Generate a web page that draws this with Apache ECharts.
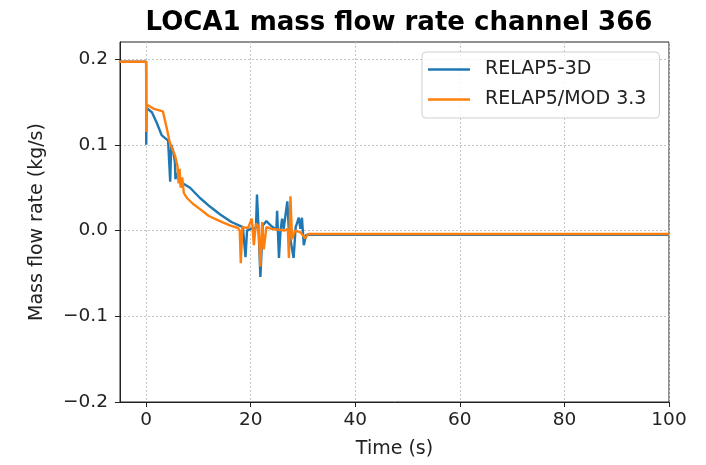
<!DOCTYPE html>
<html>
<head>
<meta charset="utf-8">
<script src="https://cdn.jsdelivr.net/npm/echarts@6/dist/echarts.min.js"></script>
<style>html,body{margin:0;padding:0;background:#fff}#c{width:706px;height:465px}</style>
</head>
<body>
<div id="c"></div>
<script>
const titleText = 'LOCA1 mass flow rate channel 366';
const seriesNames = ['RELAP5-3D', 'RELAP5/MOD 3.3'];
const xTicks = [0, 20, 40, 60, 80, 100];
const yTicks = [-0.2, -0.1, 0.0, 0.1, 0.2];

const blueTime = [-5, 0, 0.02, 0.08, 0.3, 1.1, 2.0, 3.0, 4.2, 4.5,
  4.6, 4.8, 5.2, 5.5, 5.6, 5.9, 6.5, 8.4, 10.3, 12.2,
  14.1, 16.3, 18.5, 19.0, 19.3, 20.0, 21.0, 21.2, 21.5, 21.85,
  22.3, 23.0, 24.0, 24.9, 25.05, 25.4, 25.7, 26.0, 26.3, 27.0,
  27.3, 28.2, 28.6, 29.2, 29.5, 29.8, 30.15, 30.6, 31.5, 100];
const blueFlow = [0.197, 0.197, 0.100, 0.143, 0.142, 0.138, 0.126, 0.111, 0.105, 0.107,
  0.057, 0.100, 0.092, 0.080, 0.060, 0.067, 0.057, 0.050, 0.038, 0.028,
  0.019, 0.010, 0.004, -0.031, 0.000, 0.002, 0.003, 0.042, 0.002, -0.054,
  0.006, 0.011, 0.005, 0.001, 0.023, -0.032, 0.000, 0.014, 0.002, 0.034,
  0.000, -0.032, 0.004, 0.015, 0.002, 0.015, -0.017, -0.005, -0.005, -0.005];

const orangeTime = [-5, 0, 0.03, 0.08, 0.3, 1.5, 3.2, 4.0, 4.5, 5.0,
  5.5, 6.0, 6.2, 6.4, 6.6, 6.9, 7.2, 7.8, 9.0, 10.3,
  12.0, 14.1, 16.0, 17.6, 17.9, 18.1, 18.4, 19.5, 20.2, 20.4,
  20.6, 21.0, 21.5, 21.85, 22.2, 22.5, 23.0, 24.0, 25.5, 26.5,
  27.1, 27.3, 27.6, 27.9, 28.5, 29.5, 30.4, 31.0, 100];
const orangeFlow = [0.197, 0.197, 0.115, 0.147, 0.146, 0.142, 0.139, 0.118, 0.103, 0.095,
  0.088, 0.075, 0.055, 0.072, 0.050, 0.062, 0.044, 0.038, 0.031, 0.025,
  0.017, 0.011, 0.006, 0.003, 0.000, -0.038, 0.004, 0.003, 0.014, 0.000,
  -0.017, 0.008, 0.005, -0.042, 0.010, -0.022, 0.004, 0.002, 0.001, 0.000,
  0.002, -0.032, 0.040, -0.010, 0.000, -0.002, -0.009, -0.004, -0.004];

const zip = (a, b) => a.map((t, i) => [t, b[i]]);
const FONT = 'DejaVu Sans';
const fmt = v => (v < -1e-9 ? '\u2212' : '') + Math.abs(v).toFixed(1);
const gridLine = { show: true, lineStyle: { color: '#c4c4c4', width: 1, type: [2, 2] } };

const chart = echarts.init(document.getElementById('c'), null, { renderer: 'canvas' });
chart.setOption({
  animation: false,
  backgroundColor: '#fff',
  title: {
    text: titleText, left: 394, top: 5, textAlign: 'center',
    textStyle: { fontFamily: FONT, fontWeight: 'bold', fontSize: 26, color: '#000' }
  },
  legend: {
    orient: 'vertical', left: 422, top: 52,
    data: seriesNames,
    icon: 'rect', itemWidth: 42, itemHeight: 2.5, itemGap: 9,
    padding: [7, 13, 8, 6],
    borderColor: '#d0d0d0', borderWidth: 1, borderRadius: 4,
    backgroundColor: 'rgba(255,255,255,0.85)',
    textStyle: { fontFamily: FONT, fontSize: 19, color: '#222', lineHeight: 21, padding: [0, 0, 0, 10] }
  },
  grid: { left: 120, right: 37, top: 42, bottom: 63, show: true, borderColor: '#222', borderWidth: 1 },
  xAxis: {
    type: 'value', min: -5, max: 100,
    name: 'Time (s)', nameLocation: 'middle', nameGap: 38,
    nameTextStyle: { fontFamily: FONT, fontSize: 19, color: '#222' },
    axisLine: { show: true, onZero: false, lineStyle: { color: '#222' } },
    axisTick: { show: true, length: 5, customValues: xTicks, lineStyle: { color: '#222' } },
    axisLabel: { customValues: xTicks, margin: 9, fontFamily: FONT, fontSize: 18.5, color: '#222' },
    splitLine: gridLine
  },
  yAxis: {
    type: 'value', min: -0.2, max: 0.22,
    name: 'Mass flow rate (kg/s)', nameLocation: 'middle', nameGap: 73,
    nameTextStyle: { fontFamily: FONT, fontSize: 19, color: '#222' },
    axisLine: { show: true, onZero: false, lineStyle: { color: '#222' } },
    axisTick: { show: true, length: 5, customValues: yTicks, lineStyle: { color: '#222' } },
    axisLabel: { customValues: yTicks, formatter: fmt, margin: 12, fontFamily: FONT, fontSize: 18.5, color: '#222' },
    splitLine: gridLine
  },
  series: [
    { name: seriesNames[0], type: 'line', data: zip(blueTime, blueFlow), showSymbol: false,
      lineStyle: { color: '#1f77b4', width: 2.4 }, itemStyle: { color: '#1f77b4' } },
    { name: seriesNames[1], type: 'line', data: zip(orangeTime, orangeFlow), showSymbol: false,
      lineStyle: { color: '#ff7f0e', width: 2.4 }, itemStyle: { color: '#ff7f0e' } }
  ]
});
</script>
</body>
</html>
